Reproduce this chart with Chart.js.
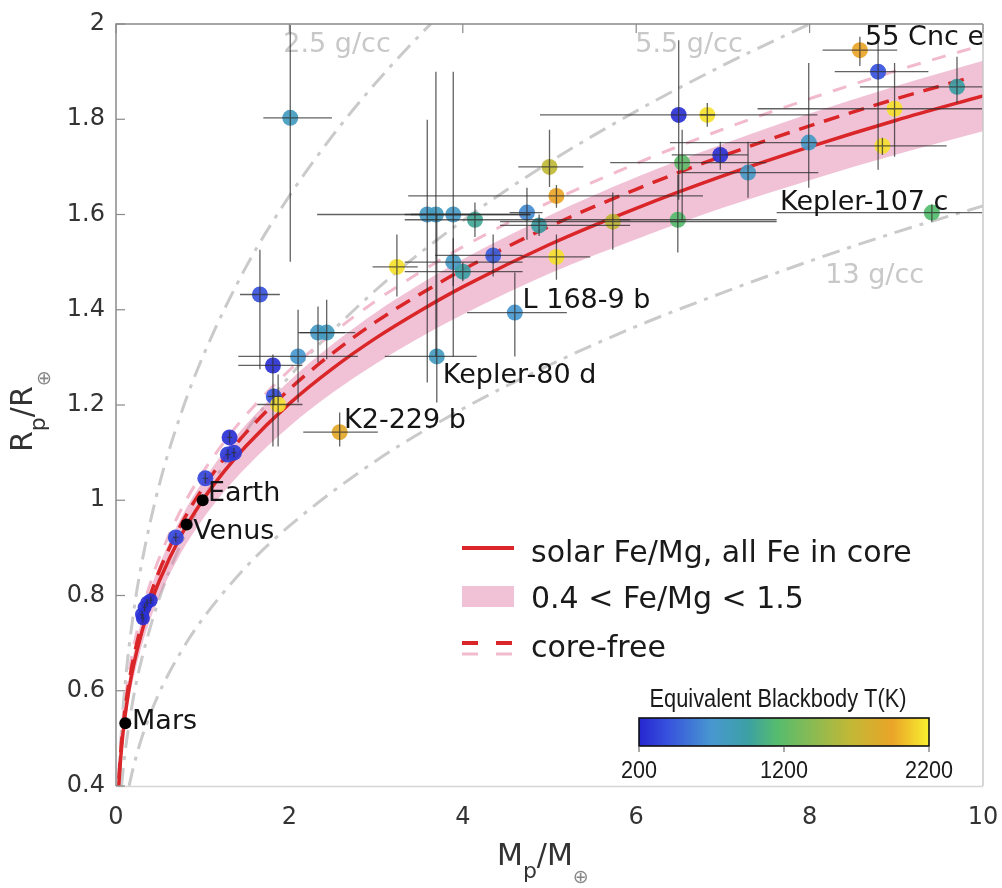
<!DOCTYPE html>
<html><head><meta charset="utf-8">
<script src="https://cdn.jsdelivr.net/npm/chart.js@4.4.0/dist/chart.umd.min.js"></script>
<style>html,body{margin:0;padding:0;background:#fff;}#wrap{width:1002px;height:888px;position:relative;}</style>
</head><body><div id="wrap"><canvas id="c" width="1002" height="888"></canvas></div>
<script>
// ================= DATA =================
const xTickValues = [0, 2, 4, 6, 8, 10];
const xTickLabels = ['0', '2', '4', '6', '8', '10'];
const yTickValues = [0.4, 0.6, 0.8, 1.0, 1.2, 1.4, 1.6, 1.8, 2.0];
const yTickLabels = ['0.4', '0.6', '0.8', '1', '1.2', '1.4', '1.6', '1.8', '2'];

// exoplanets: mass (M_earth), radius (R_earth), error bar limits, equivalent blackbody T (K)
const exoMass   = [2.01,1.66,1.81,2.10,2.33,2.43,1.82,1.87,2.58,1.31,1.36,1.29,1.03,0.69,0.30,0.33,0.36,0.40,0.31,
                   3.59,3.69,3.89,4.14,4.74,4.88,3.89,4.00,4.35,3.24,5.00,5.08,5.08,5.73,4.60,3.70,
                   6.49,6.82,6.53,6.97,7.29,6.48,7.99,8.58,8.79,8.98,8.84,9.70,9.41];
const exoRadius = [1.803,1.432,1.283,1.302,1.352,1.352,1.218,1.201,1.143,1.132,1.100,1.096,1.046,0.922,0.760,0.775,0.785,0.790,0.752,
                   1.600,1.600,1.600,1.589,1.604,1.577,1.500,1.480,1.514,1.490,1.700,1.639,1.511,1.585,1.394,1.302,
                   1.809,1.809,1.709,1.725,1.688,1.589,1.751,1.945,1.900,1.822,1.744,1.868,1.604];
const massLo    = [1.70,1.43,1.41,1.41,2.10,2.12,1.75,1.63,2.16,1.28,1.33,1.26,1.00,0.66,0.28,0.31,0.34,0.38,0.29,
                   2.32,3.40,3.33,3.33,4.54,4.43,3.33,3.33,3.68,2.96,4.64,3.37,4.68,4.43,4.05,3.10,
                   4.89,6.74,5.70,6.41,6.53,5.81,6.39,8.15,8.29,7.40,8.18,8.58,7.62];
const massHi    = [2.49,1.89,2.15,2.79,2.76,2.64,1.90,2.15,3.02,1.34,1.39,1.32,1.06,0.72,0.32,0.35,0.38,0.42,0.33,
                   4.78,4.08,4.78,5.93,4.92,5.93,4.69,4.69,4.69,3.48,5.39,6.77,5.47,7.62,5.20,4.16,
                   8.09,6.91,7.50,7.29,8.10,7.62,8.09,9.01,9.37,9.99,9.58,10.0,9.99];
const radLo     = [1.501,1.275,1.113,1.205,1.289,1.296,1.200,1.113,1.113,1.120,1.090,1.085,1.035,0.912,0.752,0.767,0.777,0.782,0.744,
                   1.247,1.302,1.302,1.553,1.547,1.555,1.450,1.460,1.470,1.428,1.658,1.614,1.463,1.526,1.302,1.205,
                   1.631,1.784,1.589,1.694,1.635,1.520,1.656,1.912,1.694,1.721,1.725,1.834,1.585];
const radHi     = [1.998,1.526,1.306,1.400,1.407,1.421,1.235,1.264,1.184,1.145,1.110,1.107,1.057,0.932,0.768,0.783,0.793,0.798,0.760,
                   1.799,1.900,1.900,1.625,1.656,1.600,1.550,1.500,1.558,1.558,1.778,1.662,1.558,1.646,1.478,1.600,
                   1.966,1.834,1.778,1.753,1.753,1.683,1.918,1.973,1.966,1.918,1.761,1.931,1.621];
const exoTemp   = [800,400,250,700,750,800,400,2150,1900,250,300,300,350,350,250,250,250,250,250,
                   750,800,750,1000,650,950,750,950,450,2150,1650,1950,2150,1650,700,800,
                   250,2150,1200,250,750,1150,750,1950,400,2150,2150,950,1150];

// solar-system planets
const solarNames  = ['Mars', 'Venus', 'Earth'];
const solarMass   = [0.107, 0.815, 1.0];
const solarRadius = [0.532, 0.949, 1.0];

// model curves
const curveMass      = [0.02,0.03,0.05,0.075,0.1,0.15,0.2,0.3,0.4,0.5,0.75,1,1.25,1.5,2,2.5,3,3.5,4,5,6,7,8,9,10];
const solarFeCore    = [0.352,0.392,0.449,0.501,0.541,0.603,0.651,0.725,0.783,0.831,0.926,1.000,1.061,1.114,1.203,1.277,1.341,1.397,1.448,1.537,1.613,1.681,1.742,1.798,1.849];
const bandUpper      = [0.366,0.408,0.467,0.521,0.563,0.627,0.677,0.754,0.814,0.864,0.963,1.040,1.103,1.159,1.251,1.328,1.395,1.453,1.506,1.598,1.678,1.748,1.812,1.870,1.923];
const bandLower      = [0.338,0.376,0.431,0.481,0.519,0.579,0.625,0.696,0.752,0.798,0.889,0.960,1.019,1.069,1.155,1.226,1.287,1.341,1.390,1.476,1.548,1.614,1.672,1.726,1.775];
const coreFreeMass   = [0.02,0.03,0.05,0.075,0.1,0.15,0.2,0.3,0.4,0.5,0.75,1,1.25,1.5,2,2.5,3,3.5,4,5,6,7,8,9,9.8];
const coreFree       = [0.361,0.402,0.460,0.514,0.555,0.618,0.667,0.743,0.803,0.852,0.949,1.025,1.088,1.142,1.233,1.309,1.375,1.432,1.484,1.575,1.653,1.723,1.786,1.843,1.885];
const coreFreeHigh   = [0.372,0.415,0.475,0.530,0.572,0.638,0.689,0.767,0.828,0.879,0.980,1.058,1.123,1.179,1.273,1.351,1.419,1.478,1.532,1.626,1.707,1.779,1.843,1.902,1.956];

const rho25Mass = [0.029,0.05,0.1,0.2,0.3,0.5,0.75,1,1.5,2,2.5,3,3.5,3.7];
const rho25Rad  = [0.400,0.479,0.604,0.761,0.871,1.033,1.182,1.301,1.490,1.639,1.766,1.877,1.976,2.013];
const rho55Mass = [0.064,0.1,0.2,0.3,0.5,0.75,1,1.5,2,3,4,5,6,7,8,8.2];
const rho55Rad  = [0.400,0.464,0.585,0.669,0.794,0.909,1.000,1.145,1.260,1.442,1.587,1.710,1.817,1.913,2.000,2.017];
const rho13Mass = [0.151,0.2,0.3,0.5,0.75,1,1.5,2,3,4,5,6,7,8,9,10];
const rho13Rad  = [0.400,0.439,0.503,0.596,0.682,0.751,0.860,0.946,1.083,1.192,1.284,1.365,1.436,1.502,1.563,1.618];

// text annotations anchored in data units (left edge of text, baseline)
const planetLabels  = ['55 Cnc e', 'Kepler-107 c', 'L 168-9 b', 'Kepler-80 d', 'K2-229 b', 'Earth', 'Venus', 'Mars'];
const planetLabelM  = [8.64, 7.66, 4.69, 3.77, 2.63, 1.06, 0.89, 0.185];
const planetLabelR  = [1.956, 1.610, 1.403, 1.247, 1.151, 0.998, 0.918, 0.520];
const densityLabels = ['2.5 g/cc', '5.5 g/cc', '13 g/cc'];
const densityLabelM = [1.93, 5.99, 8.18];
const densityLabelR = [1.941, 1.941, 1.457];

const legendLabels = ['solar Fe/Mg, all Fe in core', '0.4 < Fe/Mg < 1.5', 'core-free'];
const colorbarTitle = 'Equivalent Blackbody T(K)';
const colorbarTicks = [200, 1200, 2200];
const colorbarRange = [200, 2200];

// ================= STYLE =================
const FONT = '"DejaVu Sans", "Liberation Sans", sans-serif';
const NARROW = '"Liberation Sans Narrow", "Liberation Sans", sans-serif';
const RED = 'rgb(218,38,40)';
const PINKDASH = 'rgb(242,186,205)';
const BAND = 'rgba(225,120,165,0.45)';
const GREY = 'rgb(202,202,202)';
const tempStops  = [200, 400, 700, 950, 1150, 1650, 1950, 2200];
const stopColors = [[38,38,208],[55,82,222],[72,152,208],[60,160,165],[85,188,110],[192,184,55],[234,165,40],[248,240,48]];
function tempColor(t, a) {
  if (a === undefined) a = 1;
  let i = 0;
  while (i < tempStops.length - 2 && t > tempStops[i + 1]) i++;
  const f = Math.max(0, Math.min(1, (t - tempStops[i]) / (tempStops[i + 1] - tempStops[i])));
  const c = stopColors[i].map((v, k) => Math.round(v + f * (stopColors[i + 1][k] - v)));
  return `rgba(${c[0]},${c[1]},${c[2]},${a})`;
}
const pts = (xs, ys) => xs.map((x, i) => ({ x: x, y: ys[i] }));

const overlay = {
  id: 'overlay',
  beforeDatasetsDraw(chart) {
    const ctx = chart.ctx, xs = chart.scales.x, ys = chart.scales.y;
    ctx.save();
    ctx.font = '27px ' + FONT;
    ctx.fillStyle = 'rgb(200,200,200)';
    ctx.textBaseline = 'alphabetic';
    densityLabels.forEach((t, i) => ctx.fillText(t, xs.getPixelForValue(densityLabelM[i]), ys.getPixelForValue(densityLabelR[i])));
    ctx.restore();
  },
  afterDatasetsDraw(chart) {
    const ctx = chart.ctx, xs = chart.scales.x, ys = chart.scales.y, a = chart.chartArea;
    ctx.save();
    ctx.beginPath(); ctx.rect(a.left, a.top, a.right - a.left, a.bottom - a.top); ctx.clip();
    ctx.strokeStyle = 'rgba(45,45,45,0.75)';
    ctx.lineWidth = 1.3;
    exoMass.forEach((m, i) => {
      const x = xs.getPixelForValue(m), y = ys.getPixelForValue(exoRadius[i]);
      ctx.beginPath();
      ctx.moveTo(xs.getPixelForValue(massLo[i]), y); ctx.lineTo(xs.getPixelForValue(massHi[i]), y);
      ctx.moveTo(x, ys.getPixelForValue(radLo[i])); ctx.lineTo(x, ys.getPixelForValue(radHi[i]));
      ctx.stroke();
    });
    ctx.restore();
    ctx.save();
    ctx.font = '27px ' + FONT;
    ctx.fillStyle = '#151515';
    ctx.textBaseline = 'alphabetic';
    planetLabels.forEach((t, i) => ctx.fillText(t, xs.getPixelForValue(planetLabelM[i]), ys.getPixelForValue(planetLabelR[i])));
    ctx.restore();
  },
  afterDraw(chart) {
    const ctx = chart.ctx, xs = chart.scales.x, ys = chart.scales.y, a = chart.chartArea;
    ctx.save();
    // box
    ctx.lineWidth = 1.5;
    ctx.strokeStyle = '#d6d6d6';
    ctx.beginPath(); ctx.moveTo(a.left, a.bottom + 0.5); ctx.lineTo(a.right, a.bottom + 0.5); ctx.stroke();
    ctx.strokeStyle = '#c8c8c8';
    ctx.beginPath(); ctx.moveTo(a.right, a.top); ctx.lineTo(a.right, a.bottom); ctx.stroke();
    ctx.strokeStyle = '#8a8a8a';
    ctx.beginPath(); ctx.moveTo(a.left, a.bottom); ctx.lineTo(a.left, a.top); ctx.lineTo(a.right, a.top); ctx.stroke();
    // inward ticks
    ctx.lineWidth = 1.2;
    yTickValues.forEach(v => { const y = ys.getPixelForValue(v); ctx.beginPath(); ctx.moveTo(a.left, y); ctx.lineTo(a.left + 9, y); ctx.stroke(); });
    xTickValues.forEach(v => { const x = xs.getPixelForValue(v); ctx.beginPath(); ctx.moveTo(x, a.top); ctx.lineTo(x, a.top + 9); ctx.stroke(); });

    // axis titles
    ctx.textBaseline = 'alphabetic';
    let x = 497;
    const seq = [['M', 30, 0, '#333'], ['p', 22, 13, '#333'], ['/M', 30, 0, '#333'], ['\u2295', 19, 18, '#888']];
    seq.forEach(s => { ctx.font = s[1] + 'px ' + FONT; ctx.fillStyle = s[3]; ctx.fillText(s[0], x, 865 + s[2]); x += ctx.measureText(s[0]).width; });
    ctx.save();
    ctx.translate(32, 452); ctx.rotate(-Math.PI / 2);
    let t = 0;
    const seqY = [['R', 30, 0, '#333'], ['p', 22, 13, '#333'], ['/R', 30, 0, '#333'], ['\u2295', 19, 18, '#888']];
    seqY.forEach(s => { ctx.font = s[1] + 'px ' + FONT; ctx.fillStyle = s[3]; ctx.fillText(s[0], t, s[2]); t += ctx.measureText(s[0]).width; });
    ctx.restore();

    // legend
    ctx.lineWidth = 4; ctx.strokeStyle = RED; ctx.setLineDash([]);
    ctx.beginPath(); ctx.moveTo(462, 548); ctx.lineTo(514, 548); ctx.stroke();
    ctx.fillStyle = BAND; ctx.fillRect(462, 586, 52, 21);
    ctx.strokeStyle = RED; ctx.lineWidth = 4;
    ctx.beginPath(); ctx.moveTo(462, 643); ctx.lineTo(478, 643); ctx.moveTo(496, 643); ctx.lineTo(512, 643); ctx.stroke();
    ctx.strokeStyle = PINKDASH; ctx.lineWidth = 3;
    ctx.beginPath(); ctx.moveTo(462, 654); ctx.lineTo(478, 654); ctx.moveTo(496, 654); ctx.lineTo(512, 654); ctx.stroke();
    ctx.font = '30px ' + FONT; ctx.fillStyle = '#1a1a1a';
    ctx.fillText(legendLabels[0], 531, 562);
    ctx.fillText(legendLabels[1], 531, 608);
    ctx.fillText(legendLabels[2], 531, 657);

    // colorbar
    const cbL = 639, cbR = 929, cbT = 718, cbB = 746;
    const g = ctx.createLinearGradient(cbL, 0, cbR, 0);
    tempStops.forEach(s => g.addColorStop((s - colorbarRange[0]) / (colorbarRange[1] - colorbarRange[0]), tempColor(s)));
    ctx.fillStyle = g; ctx.fillRect(cbL, cbT, cbR - cbL, cbB - cbT);
    ctx.strokeStyle = '#111'; ctx.lineWidth = 1.6; ctx.strokeRect(cbL, cbT, cbR - cbL, cbB - cbT);
    ctx.font = '25px ' + NARROW; ctx.fillStyle = '#1a1a1a'; ctx.textAlign = 'center';
    ctx.fillText(colorbarTitle, (cbL + cbR) / 2 - 6, 707, 257);
    ctx.lineWidth = 1; ctx.strokeStyle = '#555';
    colorbarTicks.forEach(v => {
      const px = cbL + (v - colorbarRange[0]) / (colorbarRange[1] - colorbarRange[0]) * (cbR - cbL);
      ctx.beginPath(); ctx.moveTo(px, cbB); ctx.lineTo(px, cbB + 6); ctx.stroke();
      ctx.font = '24px ' + NARROW;
      ctx.fillText(String(v), px, 778, String(v).length * 12);
    });
    ctx.restore();
  }
};

const lineDS = (label, xs, ys, opts) => Object.assign({
  type: 'line', label: label, data: pts(xs, ys), pointRadius: 0, borderWidth: 3.5,
  fill: false, cubicInterpolationMode: 'monotone', showLine: true
}, opts);

new Chart(document.getElementById('c'), {
  type: 'scatter',
  data: {
    datasets: [
      { label: 'solar system', data: pts(solarMass, solarRadius), pointRadius: 6, pointBackgroundColor: '#000', pointBorderWidth: 0, order: 0 },
      { label: 'exoplanets', data: pts(exoMass, exoRadius), pointRadius: exoMass.map((m) => m < 0.5 ? 7 : 8),
        pointBackgroundColor: exoTemp.map(t => tempColor(t, 0.92)), pointBorderWidth: 0, order: 1 },
      lineDS('solar Fe/Mg, all Fe in core', curveMass, solarFeCore, { borderColor: RED, borderWidth: 3.5, order: 2 }),
      lineDS('core-free', coreFreeMass, coreFree, { borderColor: RED, borderWidth: 3.5, borderDash: [16, 10], order: 3 }),
      lineDS('core-free high Fe/Mg', curveMass, coreFreeHigh, { borderColor: PINKDASH, borderWidth: 3, borderDash: [14, 12], order: 4 }),
      lineDS('band lower', curveMass, bandLower, { borderWidth: 0, borderColor: 'rgba(0,0,0,0)', order: 6 }),
      lineDS('0.4 < Fe/Mg < 1.5', curveMass, bandUpper, { borderWidth: 0, borderColor: 'rgba(0,0,0,0)', backgroundColor: BAND, fill: '-1', order: 5 }),
      lineDS('2.5 g/cc', rho25Mass, rho25Rad, { borderColor: GREY, borderWidth: 3, borderDash: [18, 8, 4, 8], order: 7 }),
      lineDS('5.5 g/cc', rho55Mass, rho55Rad, { borderColor: GREY, borderWidth: 3, borderDash: [18, 8, 4, 8], order: 8 }),
      lineDS('13 g/cc', rho13Mass, rho13Rad, { borderColor: GREY, borderWidth: 3, borderDash: [18, 8, 4, 8], order: 9 })
    ]
  },
  options: {
    responsive: false, animation: false,
    layout: { padding: { top: 24, right: 19, left: 0, bottom: 0 } },
    plugins: { legend: { display: false }, tooltip: { enabled: false } },
    scales: {
      x: {
        type: 'linear', min: 0, max: 10,
        afterFit(s) { s.height = 102; s.paddingLeft = 0; s.paddingRight = 0; },
        afterBuildTicks(s) { s.ticks = xTickValues.map(v => ({ value: v })); },
        grid: { display: false, drawTicks: false }, border: { display: false },
        ticks: { font: { family: FONT, size: 24 }, color: '#333', padding: 17, maxRotation: 0,
                 callback: (v) => xTickLabels[xTickValues.indexOf(v)] }
      },
      y: {
        type: 'linear', min: 0.4, max: 2,
        afterFit(s) { s.width = 116; s.paddingTop = 0; s.paddingBottom = 0; },
        afterBuildTicks(s) { s.ticks = yTickValues.map(v => ({ value: v })); },
        grid: { display: false, drawTicks: false }, border: { display: false },
        ticks: { font: { family: FONT, size: 24 }, color: '#333', padding: 11,
                 callback: (v) => yTickLabels[yTickValues.findIndex(t => Math.abs(t - v) < 1e-6)] }
      }
    }
  },
  plugins: [overlay]
});
</script></body></html>
